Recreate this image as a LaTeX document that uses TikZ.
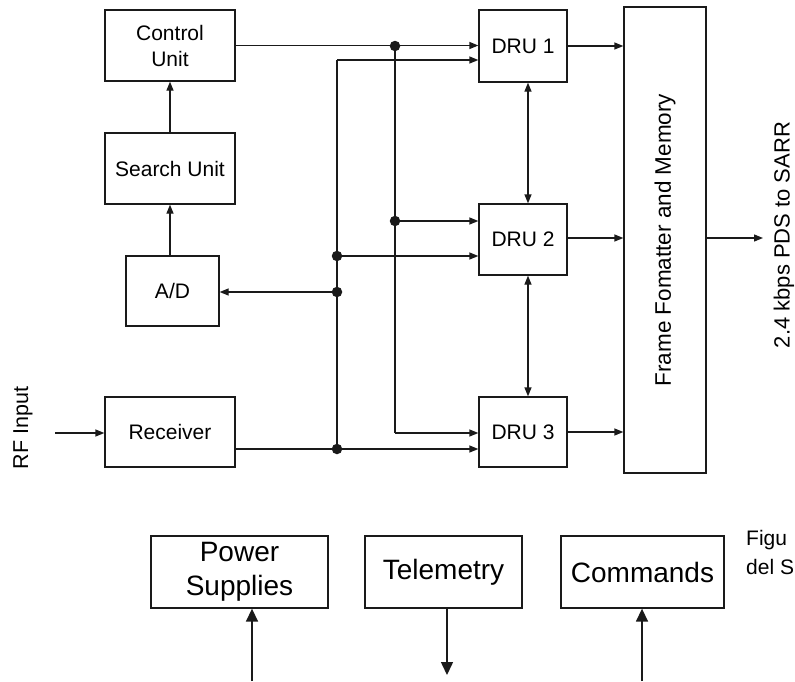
\documentclass[tikz,border=0pt]{standalone}
\usepackage{fontspec}
\setmainfont{Liberation Sans}
\usetikzlibrary{arrows.meta,calc}
\definecolor{ink}{HTML}{1A1A1A}
\tikzset{
  blk/.style n args={2}{draw=ink, line width=1.3pt, inner sep=0pt, minimum width=#1, minimum height=#2, align=center, font=\fontsize{21}{26}\selectfont, text=black},
  big/.style={font=\fontsize{28}{34}\selectfont},
  conn/.style={draw=ink, line width=1.3pt, -{Triangle[length=9pt,width=7pt]}},
  wire/.style={draw=ink, line width=1.3pt},
  bconn/.style={draw=ink, line width=1.3pt, {Triangle[length=9pt,width=7pt]}-{Triangle[length=9pt,width=7pt]}},
  bigarr/.style={draw=ink, line width=1.5pt, -{Triangle[length=13pt,width=12pt]}},
  jdot/.style={circle, fill=ink, inner sep=0pt, minimum size=10.5pt},
  figtxt/.style={anchor=base west, inner sep=0pt, font=\fontsize{21}{26}\selectfont},
}
\begin{document}
\begin{tikzpicture}[x=1pt,y=-1pt]
\useasboundingbox (0,0) rectangle (795,681);
% blocks
\node[blk={130pt}{71pt}] (ctrl) at (170,45.5) {Control\\Unit};
\node[blk={130pt}{71pt}] (search) at (170,168.5) {Search Unit};
\node[blk={93pt}{70pt}] (ad) at (172.5,291) {A/D};
\node[blk={130pt}{70pt}] (rx) at (170,432) {Receiver};
\node[blk={88pt}{72pt}] (dru1) at (523,46) {DRU 1};
\node[blk={88pt}{71pt}] (dru2) at (523,239.5) {DRU 2};
\node[blk={88pt}{70pt}] (dru3) at (523,432) {DRU 3};
\node[blk={466pt}{82pt}, rotate=90, font=\fontsize{22.5}{27}\selectfont] (ffm) at (665,240) {Frame Fomatter and Memory};
% junctions
\node[jdot] (j1) at (395,46) {};
\node[jdot] (j2) at (395,221) {};
\node[jdot] (j3) at (337,256) {};
\node[jdot] (j4) at (337,292) {};
\node[jdot] (j5) at (337,449) {};
\coordinate (c1) at (337,60);
\coordinate (c2) at (395,433);
\coordinate (d12) at (528,0);
\coordinate (out) at (763,238);
\coordinate (rf) at (55,433);
% connectors
\draw[conn] (search.north) -- (ctrl.south);
\draw[conn] (search.south |- ad.north) -- (search.south);
\draw[conn] (ctrl.east) -- (ctrl.east -| dru1.west);
\draw[wire] (j1.center) -- (c2);
\draw[conn] (c2) -- (c2 -| dru3.west);
\draw[conn] (j2.center) -- (j2 -| dru2.west);
\draw[wire] (c1) -- (j5.center);
\draw[conn] (c1) -- (c1 -| dru1.west);
\draw[conn] (j3.center) -- (j3 -| dru2.west);
\draw[conn] (j4.center) -- (j4 -| ad.east);
\draw[conn] (rx.east |- j5) -- (j5 -| dru3.west);
\draw[conn] (rf) -- (rf -| rx.west);
\draw[conn] (dru1.east) -- (dru1.east -| ffm.north);
\draw[conn] (dru2.east |- out) -- (out -| ffm.north);
\draw[conn] (dru3.east) -- (dru3.east -| ffm.north);
\draw[conn] (ffm.south |- out) -- (out);
\draw[bconn] (d12 |- dru1.south) -- (d12 |- dru2.north);
\draw[bconn] (d12 |- dru2.south) -- (d12 |- dru3.north);
% labels
\node[rotate=90, font=\fontsize{21.5}{26}\selectfont] (rflab) at (23,428) {RF Input};
\node[rotate=90, anchor=south, inner sep=0pt, font=\fontsize{22}{27}\selectfont] (sarr) at (794.5,235) {2.4 kbps PDS to SARR};
% bottom row
\node[blk={177pt}{72pt}, big] (pwr) at (239.5,572) {Power\\Supplies};
\node[blk={157pt}{72pt}, big] (tel) at (443.5,572) {Telemetry};
\node[blk={163pt}{72pt}, big] (cmd) at (642.5,572) {Commands};
\coordinate (pin) at (252,681);
\coordinate (tout) at (447,675);
\coordinate (cin) at (642,681);
\draw[bigarr] (pin) -- (pin |- pwr.south);
\draw[bigarr] (tout |- tel.south) -- (tout);
\draw[bigarr] (cin) -- (cin |- cmd.south);
\node[figtxt] (fig1) at (746,545) {Figu};
\node[figtxt] (fig2) at (746,574) {del S};
\end{tikzpicture}
\end{document}
